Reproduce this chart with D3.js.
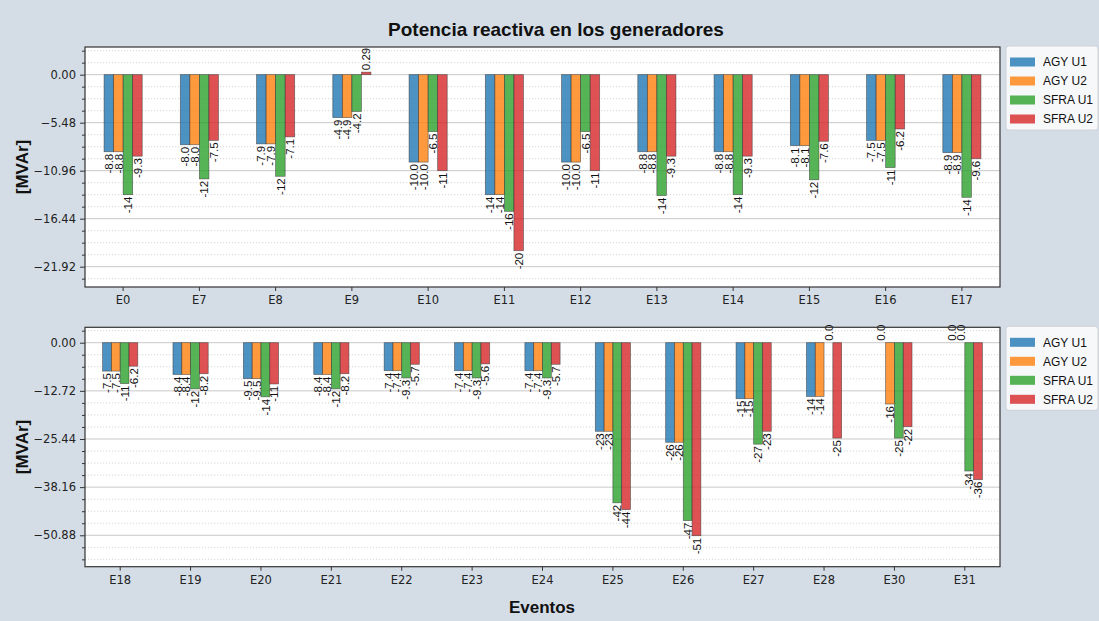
<!DOCTYPE html>
<html>
<head>
<meta charset="utf-8">
<script src="https://cdn.jsdelivr.net/npm/d3@7"></script>
<style>
  html, body { margin: 0; padding: 0; background: #d4dde6; }
  svg { display: block; }
</style>
</head>
<body>
<svg id="chart" width="1099" height="621"></svg>
<script>
// ---------- data ----------
const seriesNames = ["AGY U1", "AGY U2", "SFRA U1", "SFRA U2"];
const seriesColors = ["#1f77b4", "#ff7f0e", "#2ca02c", "#d62728"];

const events1 = ["E0","E7","E8","E9","E10","E11","E12","E13","E14","E15","E16","E17"];
const agyU1_1  = [-8.8, -8.0, -7.9, -4.9, -9.98, -13.7, -9.98, -8.8, -8.8, -8.1, -7.5, -8.9];
const agyU2_1  = [-8.8, -8.0, -7.9, -4.9, -9.98, -13.7, -9.98, -8.8, -8.8, -8.1, -7.5, -8.9];
const sfraU1_1 = [-13.7, -11.9, -11.6, -4.2, -6.5, -15.6, -6.5, -13.8, -13.7, -12.0, -10.6, -14.0];
const sfraU2_1 = [-9.3, -7.5, -7.1, 0.29, -10.96, -20.1, -10.96, -9.3, -9.3, -7.6, -6.2, -9.6];
const yTicks1 = [0, -5.48, -10.96, -16.44, -21.92];
const yDomain1 = [-24.24, 3.16];

const events2 = ["E18","E19","E20","E21","E22","E23","E24","E25","E26","E27","E28","E30","E31"];
const agyU1_2  = [-7.5, -8.4, -9.5, -8.4, -7.4, -7.4, -7.4, -23.4, -26.3, -14.8, -14.2, 0.0, 0.0];
const agyU2_2  = [-7.5, -8.4, -9.5, -8.4, -7.4, -7.4, -7.4, -23.4, -26.3, -14.8, -14.2, -16.2, 0.0];
const sfraU1_2 = [-10.8, -12.2, -14.3, -12.2, -9.3, -9.3, -9.3, -42.3, -47.0, -26.8, 0.0, -25.2, -33.9];
const sfraU2_2 = [-6.2, -8.2, -10.9, -8.2, -5.7, -5.6, -5.7, -44.1, -51.0, -23.4, -25.2, -22.2, -36.2];
const yTicks2 = [0, -12.72, -25.44, -38.16, -50.88];
const yDomain2 = [-59.18, 4.07];

const titleText = "Potencia reactiva en los generadores";
const yLabelText = "[MVAr]";
const xLabelText = "Eventos";

// ---------- layout ----------
const svg = d3.select("#chart");
svg.append("rect").attr("width", 1099).attr("height", 621).attr("fill", "#d4dde6");

const left = 85, right = 1000;

function fmtLabel(v) {
  const a = Math.abs(v);
  if (a < 1) return v.toPrecision(2);
  if (a < 10) return v.toFixed(1);
  return v.toFixed(0);
}
function fmtTick(v) {
  return d3.format(".2f")(v).replace("-", "\u2212");
}

function drawPanel(top, bottom, cats, series, ticks, domain) {
  const g = svg.append("g");
  const x = d3.scaleBand().domain(cats).range([left, right]).paddingInner(0).paddingOuter(0);
  const y = d3.scaleLinear().domain(domain).range([bottom, top]);
  const step = x.step();
  const bw = step * 0.125;

  g.append("rect").attr("x", left).attr("y", top).attr("width", right - left).attr("height", bottom - top).attr("fill", "#ffffff");

  // minor ticks values
  const minorStep = (ticks[0] - ticks[1]) / 4;
  const minor = [];
  for (let v = ticks[0] + Math.ceil((domain[1]) / minorStep) * minorStep; v >= domain[0]; v -= minorStep) {
    const isMajor = ticks.some(t => Math.abs(t - v) < 1e-6);
    if (!isMajor && v <= domain[1] && v >= domain[0]) minor.push(v);
  }

  g.selectAll(".minorgrid").data(minor).join("line")
    .attr("x1", left).attr("x2", right)
    .attr("y1", d => y(d)).attr("y2", d => y(d))
    .attr("stroke", "#cdcdcd").attr("stroke-width", 0.8).attr("stroke-dasharray", "1.2,1.8");

  g.selectAll(".majorgrid").data(ticks).join("line")
    .attr("x1", left).attr("x2", right)
    .attr("y1", d => y(d)).attr("y2", d => y(d))
    .attr("stroke", "#c8c8c8").attr("stroke-width", 1);

  // bars
  series.forEach((vals, si) => {
    const off = (si - 2) * bw;
    const data = cats.map((c, i) => ({ c, v: vals[i] }));
    g.selectAll(".bar" + si).data(data).join("rect")
      .attr("x", d => x(d.c) + step / 2 + off)
      .attr("width", bw)
      .attr("y", d => Math.min(y(d.v), y(0)))
      .attr("height", d => Math.abs(y(d.v) - y(0)))
      .attr("fill", seriesColors[si]).attr("fill-opacity", 0.8)
      .attr("stroke", "#3a3a3a").attr("stroke-opacity", 0.7).attr("stroke-width", 0.7);

    g.selectAll(".lab" + si).data(data).join("text")
      .attr("transform", d => {
        const cx = x(d.c) + step / 2 + off + bw / 2;
        const cy = d.v < 0 ? y(d.v) + 2 : y(d.v) - 2;
        return `translate(${cx},${cy}) rotate(-90)`;
      })
      .attr("text-anchor", d => d.v < 0 ? "end" : "start")
      .attr("dy", "0.36em")
      .attr("font-family", "'Liberation Sans', Arial, sans-serif")
      .attr("font-size", 11.5)
      .attr("fill", "#111")
      .text(d => fmtLabel(d.v));
  });

  // frame
  g.append("rect").attr("x", left).attr("y", top).attr("width", right - left).attr("height", bottom - top)
    .attr("fill", "none").attr("stroke", "#333").attr("stroke-width", 1.2);

  // y axis
  const yAxis = d3.axisLeft(y).tickValues(ticks).tickFormat(fmtTick).tickSize(5).tickPadding(4);
  const ya = g.append("g").attr("transform", `translate(${left},0)`).call(yAxis);
  ya.select(".domain").remove();
  ya.selectAll("line").attr("stroke", "#333");
  ya.selectAll("text").attr("font-family", "'DejaVu Sans', sans-serif").attr("font-size", 11.5).attr("fill", "#222");

  const yMinor = d3.axisLeft(y).tickValues(minor).tickFormat("").tickSize(3);
  const ym = g.append("g").attr("transform", `translate(${left},0)`).call(yMinor);
  ym.select(".domain").remove();
  ym.selectAll("line").attr("stroke", "#333");

  // x axis
  const xAxis = d3.axisBottom(x).tickSize(4).tickPadding(5);
  const xa = g.append("g").attr("transform", `translate(0,${bottom})`).call(xAxis);
  xa.select(".domain").remove();
  xa.selectAll("line").attr("stroke", "#333");
  xa.selectAll("text").attr("font-family", "'DejaVu Sans', sans-serif").attr("font-size", 11.5).attr("fill", "#222");

  // y label
  g.append("text")
    .attr("transform", `translate(28,${(top + bottom) / 2}) rotate(-90)`)
    .attr("text-anchor", "middle")
    .attr("font-family", "'Liberation Sans', Arial, sans-serif")
    .attr("font-weight", "bold").attr("font-size", 17).attr("fill", "#111")
    .text(yLabelText);

  // legend
  const lg = g.append("g").attr("transform", `translate(1006,${top - 1})`);
  lg.append("rect").attr("width", 92).attr("height", 84).attr("rx", 3)
    .attr("fill", "#ffffff").attr("fill-opacity", 0.8).attr("stroke", "#cccccc").attr("stroke-width", 0.8);
  seriesNames.forEach((n, i) => {
    const yy = 16 + i * 19;
    lg.append("rect").attr("x", 4).attr("y", yy - 4.5).attr("width", 25).attr("height", 9)
      .attr("fill", seriesColors[i]).attr("fill-opacity", 0.8);
    lg.append("text").attr("x", 37).attr("y", yy).attr("dy", "0.36em")
      .attr("font-family", "'Liberation Sans', Arial, sans-serif").attr("font-size", 12).attr("fill", "#111")
      .text(n);
  });
}

drawPanel(47, 287, events1, [agyU1_1, agyU2_1, sfraU1_1, sfraU2_1], yTicks1, yDomain1);
drawPanel(327.3, 566.7, events2, [agyU1_2, agyU2_2, sfraU1_2, sfraU2_2], yTicks2, yDomain2);

svg.append("text").attr("x", 556).attr("y", 36).attr("text-anchor", "middle")
  .attr("font-family", "'Liberation Sans', Arial, sans-serif").attr("font-weight", "bold")
  .attr("font-size", 19).attr("fill", "#111").text(titleText);

svg.append("text").attr("x", 542).attr("y", 613).attr("text-anchor", "middle")
  .attr("font-family", "'Liberation Sans', Arial, sans-serif").attr("font-weight", "bold")
  .attr("font-size", 17).attr("fill", "#111").text(xLabelText);
</script>
</body>
</html>
